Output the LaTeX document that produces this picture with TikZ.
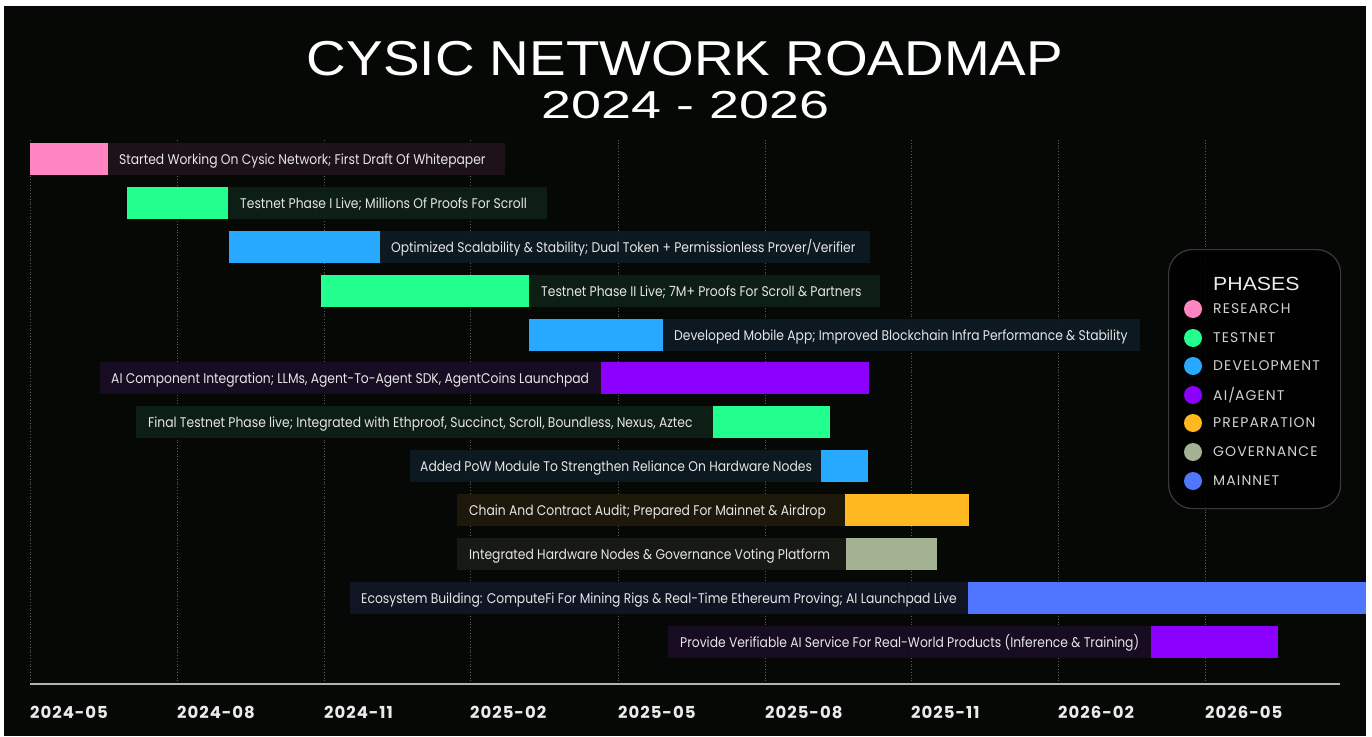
\documentclass[tikz,border=0pt]{standalone}
\usepackage{fontspec}
\setmainfont{Poppins}
\newfontfamily\titlefont[FakeStretch=1.12]{Liberation Sans}
\newfontfamily\subfont[FakeStretch=1.38]{Liberation Sans}
\newfontfamily\labfont[FakeStretch=0.88]{Poppins}
\newfontfamily\legfont[LetterSpace=8]{Poppins}
\newfontfamily\axfont[LetterSpace=6]{Poppins}
\definecolor{bgc}{HTML}{050805}
\definecolor{cpink}{HTML}{FF85C2}
\definecolor{cgreen}{HTML}{22FF8E}
\definecolor{cblue}{HTML}{26A9FF}
\definecolor{cpurple}{HTML}{8C00FF}
\definecolor{corange}{HTML}{FFB81F}
\definecolor{csage}{HTML}{A3B292}
\definecolor{cmain}{HTML}{5075FF}
\definecolor{tpink}{HTML}{1F1319}
\definecolor{tgreen}{HTML}{0E2016}
\definecolor{tblue}{HTML}{0D1B24}
\definecolor{tpurple}{HTML}{1A0D26}
\definecolor{torange}{HTML}{211A0C}
\definecolor{tsage}{HTML}{191B17}
\definecolor{tmain}{HTML}{121726}
\definecolor{txt}{HTML}{E6E6E6}
\definecolor{gridc}{HTML}{5A5A5A}
\definecolor{legborder}{HTML}{3A3A3A}
\tikzset{
  bar/.style={anchor=west, minimum height=32, inner sep=0, outer sep=0, draw=none, fill=#1},
  labbg/.style={anchor=west, minimum height=32, inner sep=0, outer sep=0, draw=none, fill=#1, fill opacity=0.92},
  labtext/.style={anchor=base west, inner sep=0, text=txt, font=\labfont\fontsize{14}{16}\selectfont},
  gridline/.style={gridc, line width=0.8, dotted},
  axisline/.style={draw=white!70!black, line width=1.6},
  axlab/.style={anchor=base west, inner sep=0, text=white!92!black, font=\axfont\bfseries\fontsize{16.5}{18}\selectfont},
  legdot/.style={circle, fill=#1, minimum size=18, inner sep=0},
  legtext/.style={anchor=west, inner sep=0, text=white!82!black, font=\legfont\fontsize{14}{16}\selectfont},
}
\begin{document}
\begin{tikzpicture}[x=1pt,y=-1pt]
\useasboundingbox (0,0) rectangle (1372,736);
\fill[white] (0,0) rectangle (1372,736);
\fill[bgc] (4,6) rectangle (1366,736);
% title
\node[anchor=base, inner sep=0, text=white, font=\titlefont\fontsize{49}{55}\selectfont] (title) at (685,75) {CYSIC NETWORK ROADMAP};
\node[anchor=base, inner sep=0, text=white, font=\subfont\fontsize{39}{44}\selectfont] (subtitle) at (685.5,118) {2024 - 2026};
% grid and axis
\foreach \x/\t [count=\i] in {30/2024-05,177/2024-08,324/2024-11,470/2025-02,618/2025-05,765/2025-08,911/2025-11,1058/2026-02,1205/2026-05}{
  \coordinate (g\i) at (\x,140);
  \coordinate (h\i) at (\x,684);
  \draw[gridline] (g\i) -- (h\i);
  \node[axlab] (t\i) at (\x,718) {\t};
}
\coordinate (ax0) at (30,684);
\coordinate (ax1) at (1340,684);
\draw[axisline] (ax0) -- (ax1);
% rows
\node[bar=cpink,   minimum width=78]  (b1) at (30,159) {};
\node[labbg=tpink, minimum width=397] (l1) at (108,159) {};
\node[labtext] (x1) at ([xshift=11,yshift=-5]l1.west) {Started Working On Cysic Network; First Draft Of Whitepaper};

\node[bar=cgreen,   minimum width=101] (b2) at (127,203) {};
\node[labbg=tgreen, minimum width=319] (l2) at (228,203) {};
\node[labtext] (x2) at ([xshift=12,yshift=-5]l2.west) {Testnet Phase I Live; Millions Of Proofs For Scroll};

\node[bar=cblue,   minimum width=151] (b3) at (229,247) {};
\node[labbg=tblue, minimum width=490] (l3) at (380,247) {};
\node[labtext] (x3) at ([xshift=11,yshift=-5]l3.west) {Optimized Scalability \& Stability; Dual Token + Permissionless Prover/Verifier};

\node[bar=cgreen,   minimum width=208] (b4) at (321,291) {};
\node[labbg=tgreen, minimum width=351] (l4) at (529,291) {};
\node[labtext] (x4) at ([xshift=12,yshift=-5]l4.west) {Testnet Phase II Live; 7M+ Proofs For Scroll \& Partners};

\node[bar=cblue,   minimum width=134] (b5) at (529,335) {};
\node[labbg=tblue, minimum width=477] (l5) at (663,335) {};
\node[labtext] (x5) at ([xshift=11,yshift=-5]l5.west) {Developed Mobile App; Improved Blockchain Infra Performance \& Stability};

\node[bar=cpurple,   minimum width=268] (b6) at (601,378) {};
\node[labbg=tpurple, minimum width=501] (l6) at (100,378) {};
\node[labtext] (x6) at ([xshift=11,yshift=-5]l6.west) {AI Component Integration; LLMs, Agent-To-Agent SDK, AgentCoins Launchpad};

\node[bar=cgreen,   minimum width=117] (b7) at (713,422) {};
\node[labbg=tgreen, minimum width=577] (l7) at (136,422) {};
\node[labtext] (x7) at ([xshift=12,yshift=-5]l7.west) {Final Testnet Phase live; Integrated with Ethproof, Succinct, Scroll, Boundless, Nexus, Aztec};

\node[bar=cblue,   minimum width=47]  (b8) at (821,466) {};
\node[labbg=tblue, minimum width=411] (l8) at (410,466) {};
\node[labtext] (x8) at ([xshift=10,yshift=-5]l8.west) {Added PoW Module To Strengthen Reliance On Hardware Nodes};

\node[bar=corange,   minimum width=124] (b9) at (845,510) {};
\node[labbg=torange, minimum width=388] (l9) at (457,510) {};
\node[labtext] (x9) at ([xshift=12,yshift=-5]l9.west) {Chain And Contract Audit; Prepared For Mainnet \& Airdrop};

\node[bar=csage,   minimum width=91]  (b10) at (846,554) {};
\node[labbg=tsage, minimum width=389] (l10) at (457,554) {};
\node[labtext] (x10) at ([xshift=12,yshift=-5]l10.west) {Integrated Hardware Nodes \& Governance Voting Platform};

\node[bar=cmain,   minimum width=398] (b11) at (968,598) {};
\node[labbg=tmain, minimum width=618] (l11) at (350,598) {};
\node[labtext] (x11) at ([xshift=11,yshift=-5]l11.west) {Ecosystem Building: ComputeFi For Mining Rigs \& Real-Time Ethereum Proving; AI Launchpad Live};

\node[bar=cpurple,   minimum width=127] (b12) at (1151,642) {};
\node[labbg=tpurple, minimum width=483] (l12) at (668,642) {};
\node[labtext] (x12) at ([xshift=12,yshift=-5]l12.west) {Provide Verifiable AI Service For Real-World Products (Inference \& Training)};
% legend
\node[draw=legborder, line width=1.2, fill=black, fill opacity=0.85, rounded corners=24, minimum width=172, minimum height=259, inner sep=0, anchor=north west] (legend) at (1168,249) {};
\node[anchor=base west, inner sep=0, text=white!92!black, font=\titlefont\fontsize{19}{22}\selectfont] (phases) at (1213,290) {PHASES};
\foreach \c/\t/\y [count=\i] in {cpink/RESEARCH/309,cgreen/TESTNET/338,cblue/DEVELOPMENT/366,cpurple/AI\slash AGENT/395,corange/PREPARATION/423,csage/GOVERNANCE/452,cmain/MAINNET/481}{
  \node[legdot=\c] (d\i) at (1193,\y) {};
  \node[legtext] (e\i) at (1213,\y) {\t};
}
\end{tikzpicture}
\end{document}
